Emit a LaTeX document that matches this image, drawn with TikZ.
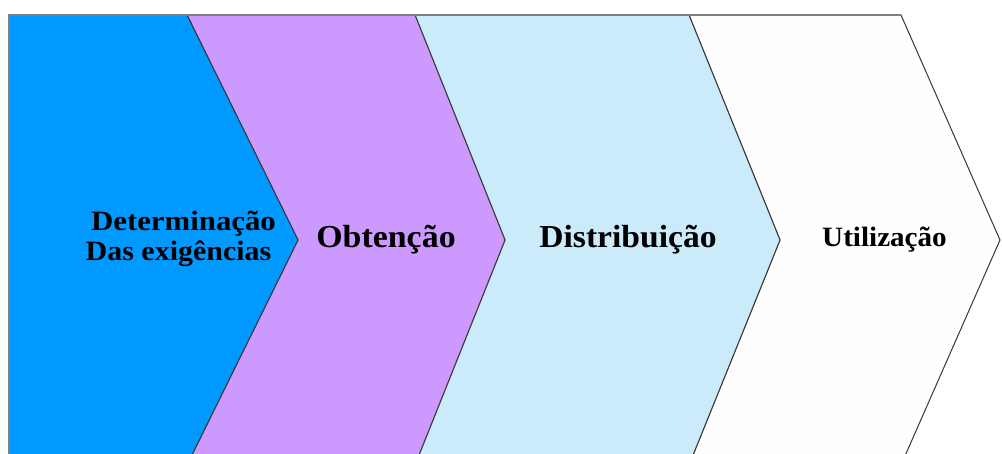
\documentclass[tikz,border=0pt]{standalone}
\usepackage{fontspec}
\setmainfont{Liberation Serif}
\definecolor{cblue}{HTML}{0099FF}
\definecolor{cpurple}{HTML}{CC99FF}
\definecolor{clight}{HTML}{CCEBFA}
\definecolor{cwhite}{HTML}{FEFEFE}
\definecolor{edge}{HTML}{383838}
\tikzset{
  chev/.style={draw=edge, line width=1pt, line join=miter},
  lbl/.style={anchor=base, inner sep=0pt, font=\bfseries},
}
\begin{document}
\begin{tikzpicture}[x=1pt,y=-1pt]
\useasboundingbox (0,0) rectangle (1002,454);
\fill[white] (0,0) rectangle (1002,454);
\begin{scope}
\clip (0,0) rectangle (1002,454);
\path[chev, fill=cwhite] (689,15) -- (901,15) -- (1000,240) -- (901,465) -- (689,465) -- (780,240) -- cycle;
\path[chev, fill=clight] (415,15) -- (689,15) -- (780,240) -- (689,465) -- (415,465) -- (505,240) -- cycle;
\path[chev, fill=cpurple] (187,15) -- (415,15) -- (505,240) -- (415,465) -- (187,465) -- (298,240) -- cycle;
\path[chev, fill=cblue] (9,15) -- (187,15) -- (298,240) -- (187,465) -- (9,465) -- cycle;
\draw[draw=black!50, line width=1.2pt] (9,465) -- (9,15) -- (901,15);
\end{scope}
\node[lbl, font=\fontsize{28}{28}\selectfont\bfseries, xscale=1.1, transform shape] (t1a) at (183.5,231) {Determinação};
\node[lbl, font=\fontsize{28}{28}\selectfont\bfseries, xscale=1.07, transform shape] (t1b) at (178.5,261) {Das exigências};
\node[lbl, font=\fontsize{32}{32}\selectfont\bfseries, xscale=1.06, transform shape] (t2) at (386,248) {Obtenção};
\node[lbl, font=\fontsize{32}{32}\selectfont\bfseries, xscale=1.05, transform shape] (t3) at (628,248) {Distribuição};
\node[lbl, font=\fontsize{28}{28}\selectfont\bfseries, xscale=1.04, transform shape] (t4) at (884.5,247) {Utilização};
\end{tikzpicture}
\end{document}
